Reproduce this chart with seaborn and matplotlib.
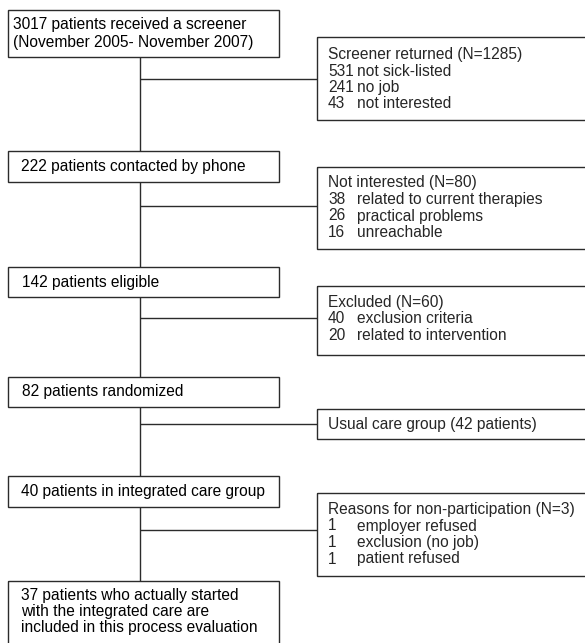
import matplotlib
matplotlib.use("Agg")
import matplotlib.pyplot as plt
from matplotlib.patches import Rectangle
import seaborn as sns

# ---------------- data (texts and counts) ----------------
main_steps = [
    ["3017 patients received a screener", "(November 2005- November 2007)"],
    ["222 patients contacted by phone"],
    ["142 patients eligible"],
    ["82 patients randomized"],
    ["40 patients in integrated care group"],
    ["37 patients who actually started", "with the integrated care are",
     "included in this process evaluation"],
]

side_titles = [
    "Screener returned (N=1285)",
    "Not interested (N=80)",
    "Excluded (N=60)",
    "Usual care group (42 patients)",
    "Reasons for non-participation (N=3)",
]
side_counts = [
    [531, 241, 43],
    [38, 26, 16],
    [40, 20],
    [],
    [1, 1, 1],
]
side_reasons = [
    ["not sick-listed", "no job", "not interested"],
    ["related to current therapies", "practical problems", "unreachable"],
    ["exclusion criteria", "related to intervention"],
    [],
    ["employer refused", "exclusion (no job)", "patient refused"],
]

# ---------------- layout (pixel coordinates) ----------------
W, H = 585, 643
main_x0, main_x1 = 8, 278.5
main_boxes = [  # top, bottom, text x, line centres
    (9.5, 57, 13, [25, 42.5]),
    (151, 182, 21, [166.5]),
    (267, 297, 22, [282]),
    (376.5, 406.5, 22, [391.5]),
    (476, 507, 21, [491.5]),
    (581, 660, 21, [595.5, 611.5, 627.5]),
]
side_x0, side_x1 = 317, 600
side_boxes = [  # top, bottom, line centres
    (37, 120, [54.5, 71, 87.5, 104]),
    (167, 249, [183, 199.5, 216, 232.5]),
    (286, 355, [302, 318.5, 335]),
    (409, 439, [424]),
    (493, 576, [509.5, 526, 542.5, 559]),
]
branch_y = [79, 206, 318, 423.5, 530]
trunk_x = 140
side_text_x, side_label_x = 328, 357

sns.set_theme(style="white")
plt.rcParams["font.family"] = ["Liberation Sans", "DejaVu Sans"]

fig = plt.figure(figsize=(W / 100, H / 100), dpi=100)
ax = fig.add_axes([0, 0, 1, 1])
ax.set_xlim(0, W)
ax.set_ylim(H, 0)
ax.axis("off")

lc = "#2b2b2b"
lw = 1.0
fs = 11.2

for (top, bot, tx, ys), lines in zip(main_boxes, main_steps):
    ax.add_patch(Rectangle((main_x0, top), main_x1 - main_x0, bot - top,
                           fill=False, edgecolor=lc, linewidth=lw))
    for y, t in zip(ys, lines):
        ax.text(tx, y, t, fontsize=fs, va="center", ha="left", color="black")

# trunk segments between main boxes
for i in range(len(main_boxes) - 1):
    ax.plot([trunk_x, trunk_x], [main_boxes[i][1], main_boxes[i + 1][0]],
            color=lc, linewidth=lw, solid_capstyle="butt")

for (top, bot, ys), title, counts, reasons, by in zip(
        side_boxes, side_titles, side_counts, side_reasons, branch_y):
    ax.add_patch(Rectangle((side_x0, top), side_x1 - side_x0, bot - top,
                           fill=False, edgecolor=lc, linewidth=lw))
    ax.plot([trunk_x, side_x0], [by, by], color=lc, linewidth=lw,
            solid_capstyle="butt")
    ax.text(side_text_x, ys[0], title, fontsize=fs, va="center", ha="left")
    for y, c, r in zip(ys[1:], counts, reasons):
        ax.text(side_text_x, y, str(c), fontsize=fs, va="center", ha="left")
        ax.text(side_label_x, y, r, fontsize=fs, va="center", ha="left")

fig.savefig("out.png", dpi=100, facecolor="white")
